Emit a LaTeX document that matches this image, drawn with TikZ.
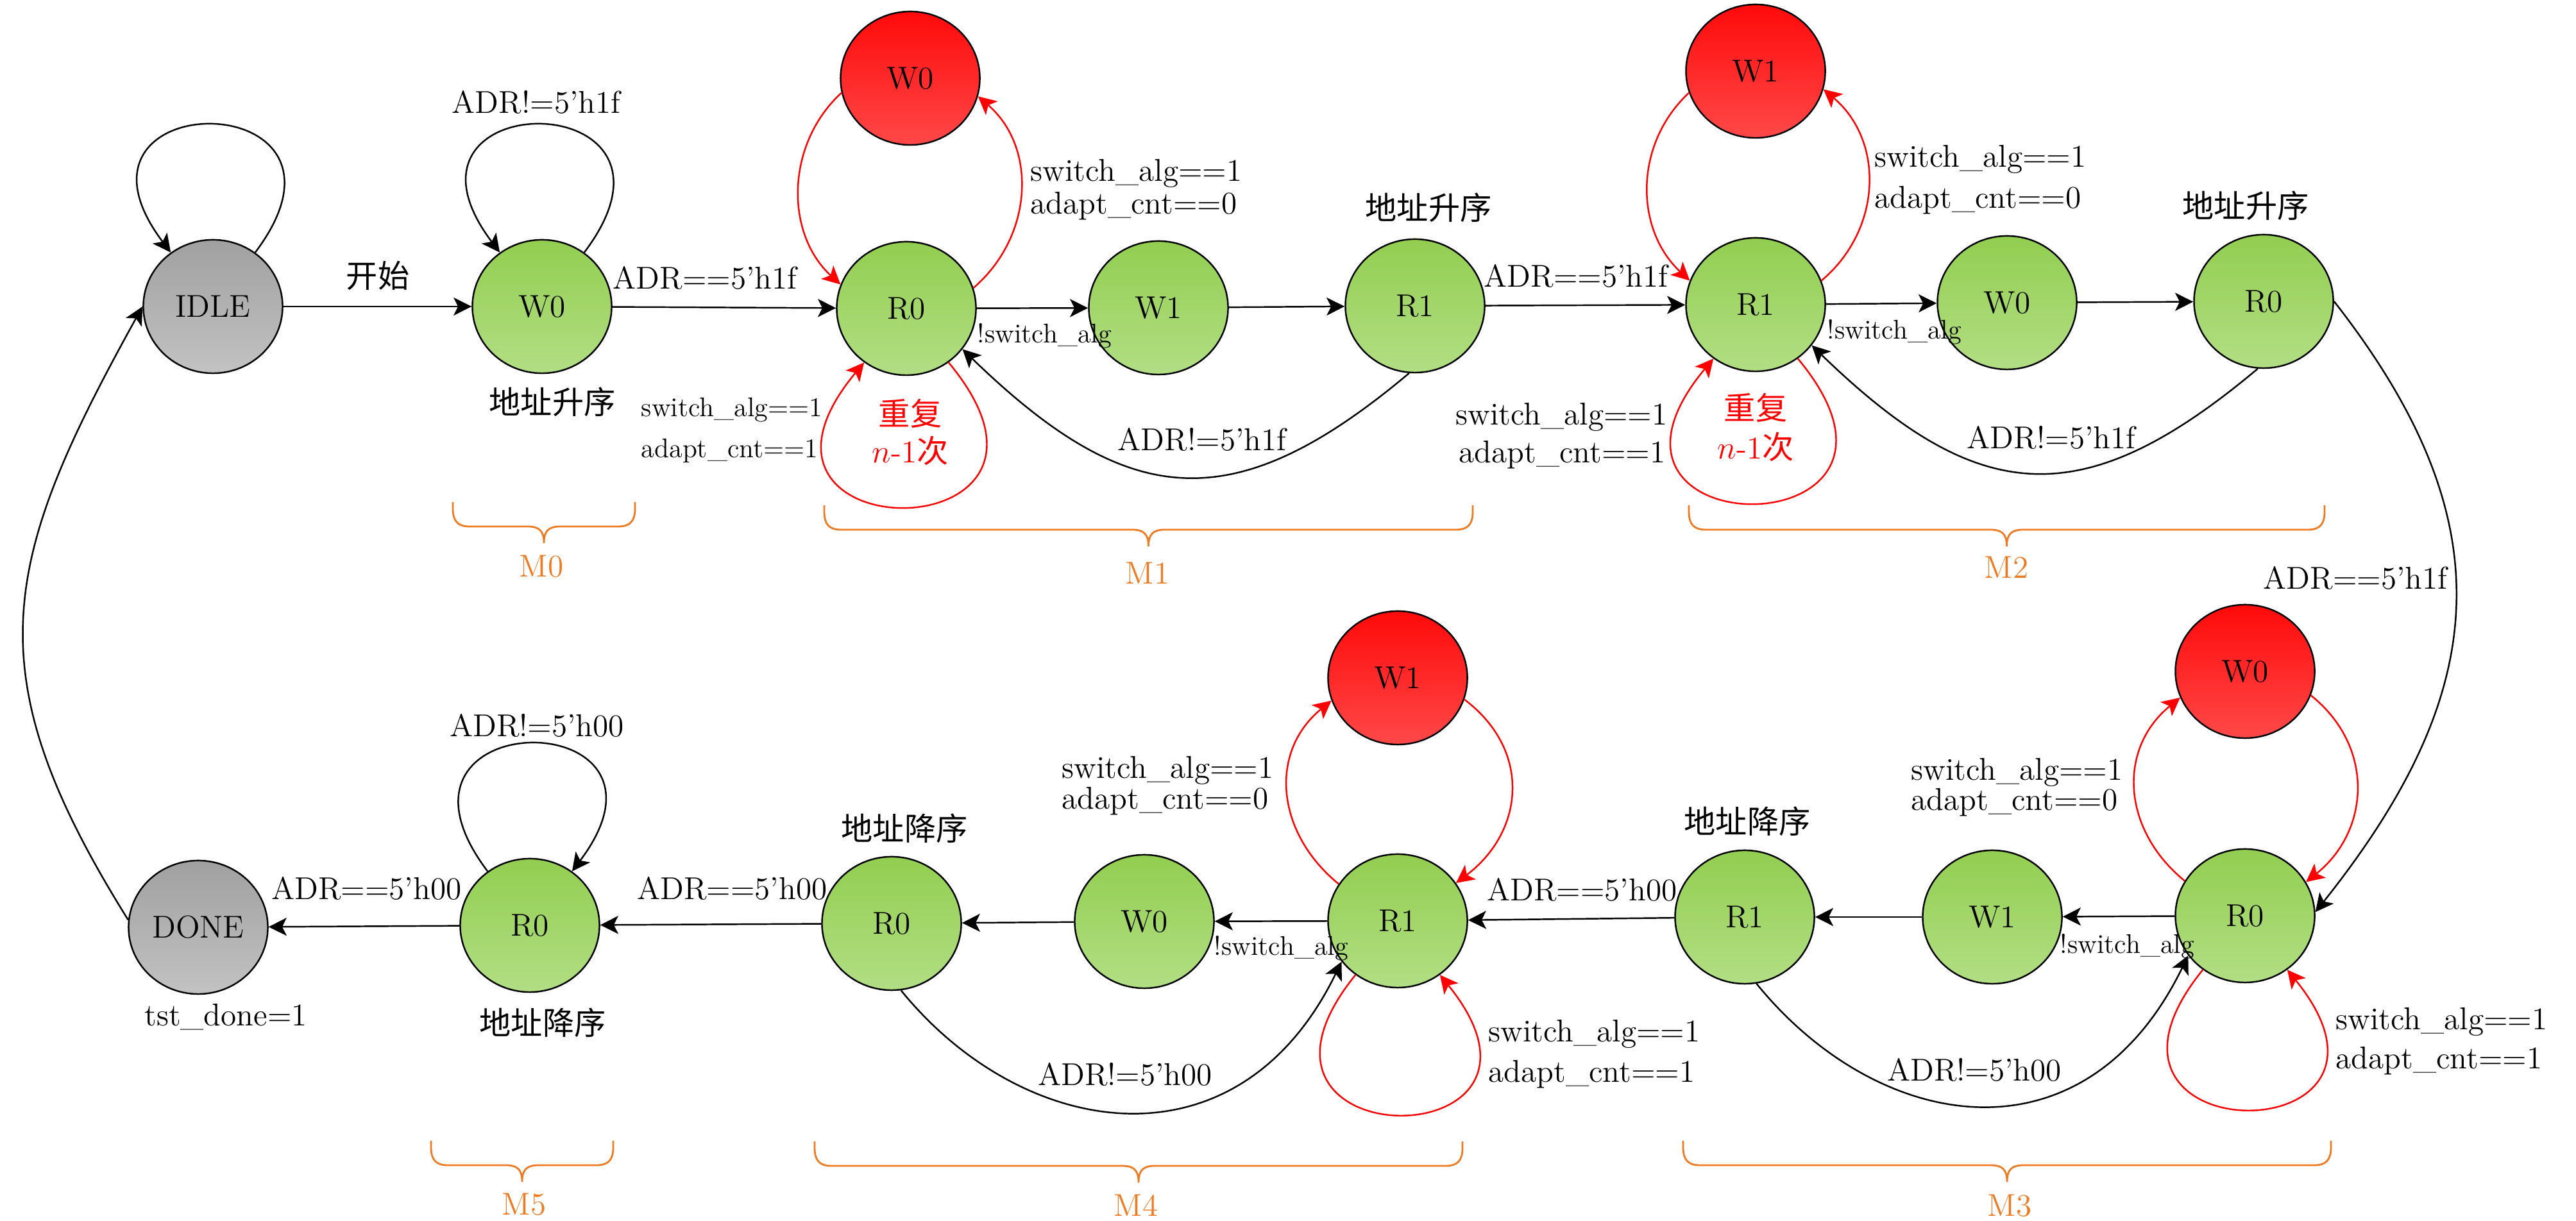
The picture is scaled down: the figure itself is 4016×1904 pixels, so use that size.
\documentclass[tikz,border=0pt]{standalone}
\usepackage{fontspec}
\newfontfamily\cjk{Noto Sans CJK SC}
\usetikzlibrary{arrows.meta,shapes.geometric}
\definecolor{gtop}{HTML}{92CE50}
\definecolor{gbot}{HTML}{B2DE84}
\definecolor{rtop}{HTML}{FF0A0A}
\definecolor{rbot}{HTML}{FF4848}
\definecolor{ktop}{HTML}{A0A0A0}
\definecolor{kbot}{HTML}{C2C2C2}
\definecolor{braceor}{HTML}{EE7A22}
\newcommand\drawbrace[3]{%
  \pgfmathsetmacro\bxc{(#1+#2)/2}%
  \draw[bracestyle] (#1,#3) -- (#1,#3-10)
    .. controls (#1,#3-30) and (#1+8,#3-38) .. (#1+26,#3-38)
    -- (\bxc-26,#3-38)
    .. controls (\bxc-8,#3-38) and (\bxc,#3-44) .. (\bxc,#3-64)
    .. controls (\bxc,#3-44) and (\bxc+8,#3-38) .. (\bxc+26,#3-38)
    -- (#2-26,#3-38)
    .. controls (#2-8,#3-38) and (#2,#3-30) .. (#2,#3-10) -- (#2,#3);}
\begin{document}
\begin{tikzpicture}[x=0.01cm,y=0.01cm,
  font=\fontsize{14}{17}\selectfont,
  fsm/.style={ellipse, draw=black, line width=0.7pt, minimum width=2.17cm, minimum height=2.08cm, inner sep=0pt},
  gst/.style={top color=gtop, bottom color=gbot},
  rst/.style={top color=rtop, bottom color=rbot},
  kst/.style={top color=ktop, bottom color=kbot},
  arr/.style={-{Stealth[length=8pt,width=8pt,inset=2pt]}, line width=0.7pt},
  rarr/.style={arr, red},
  lbl/.style={inner sep=0pt},
  slbl/.style={inner sep=0pt, font=\fontsize{12}{14}\selectfont},
  rlbl/.style={inner sep=0pt, text=red},
  mlbl/.style={inner sep=0pt, text=braceor},
  bracestyle/.style={draw=braceor, line width=0.8pt}]
\useasboundingbox (0,0) rectangle (4016,1904);

% states
\node[fsm,kst] (IDLE) at (332,1426) {IDLE};
\node[fsm,gst] (W0a) at (845,1426) {W0};
\node[fsm,gst] (R0a) at (1413,1423) {R0};
\node[fsm,rst] (W0r) at (1419,1782) {W0};
\node[fsm,gst] (W1a) at (1806,1424) {W1};
\node[fsm,gst] (R1a) at (2206,1427) {R1};
\node[fsm,gst] (R1b) at (2737,1429) {R1};
\node[fsm,rst] (W1r) at (2737,1793) {W1};
\node[fsm,gst] (W0b) at (3129,1432) {W0};
\node[fsm,gst] (R0b) at (3529,1434) {R0};
\node[fsm,kst] (DONE) at (309,458) {DONE};
\node[fsm,gst] (R0e) at (826,461) {R0};
\node[fsm,gst] (R0d) at (1390,464) {R0};
\node[fsm,gst] (W0d) at (1784,467) {W0};
\node[fsm,gst] (R1d) at (2179,468) {R1};
\node[fsm,rst] (W1rd) at (2179,847) {W1};
\node[fsm,gst] (R1c) at (2720,474) {R1};
\node[fsm,gst] (W1c) at (3106,474) {W1};
\node[fsm,gst] (R0c) at (3500,476) {R0};
\node[fsm,rst] (W0rc) at (3500,857) {W0};

% straight transitions
\draw[arr] (IDLE) -- (W0a);
\draw[arr] (W0a) -- (R0a);
\draw[arr] (R0a) -- (W1a);
\draw[arr] (W1a) -- (R1a);
\draw[arr] (R1a) -- (R1b);
\draw[arr] (R1b) -- (W0b);
\draw[arr] (W0b) -- (R0b);
\draw[arr] (R0c) -- (W1c);
\draw[arr] (W1c) -- (R1c);
\draw[arr] (R1c) -- (R1d);
\draw[arr] (R1d) -- (W0d);
\draw[arr] (W0d) -- (R0d);
\draw[arr] (R0d) -- (R0e);
\draw[arr] (R0e) -- (DONE);

% black self loops
\draw[arr] (IDLE.52) .. controls +(200,265) and +(-200,265) .. (IDLE.128);
\draw[arr] (W0a.52) .. controls +(200,265) and +(-200,265) .. (W0a.128);
\draw[arr] (R0e.128) .. controls +(-200,265) and +(200,265) .. (R0e.52);

% red self loops
\draw[rarr] (R0a.-52) .. controls +(250,-300) and +(-250,-300) .. (R0a.-128);
\draw[rarr] (R1b.-52) .. controls +(250,-300) and +(-250,-300) .. (R1b.-128);
\draw[rarr] (R1d.-128) .. controls +(-235,-290) and +(235,-290) .. (R1d.-52);
\draw[rarr] (R0c.-128) .. controls +(-235,-290) and +(235,-290) .. (R0c.-52);

% red arcs to the extra write states
\draw[rarr] (W0r.192) .. controls +(-87,-80) and +(-87,80) .. (R0a.160);
\draw[rarr] (R0a.17) .. controls +(93,80) and +(93,-80) .. (W0r.-15);
\draw[rarr] (W1r.198) .. controls +(-86,-80) and +(-86,80) .. (R1b.160);
\draw[rarr] (R1b.20) .. controls +(95,80) and +(95,-80) .. (W1r.-15);
\draw[rarr] (R1d.148) .. controls +(-98,80) and +(-98,-80) .. (W1rd.199);
\draw[rarr] (W1rd.-18) .. controls +(106,-80) and +(106,80) .. (R1d.33);
\draw[rarr] (R0c.150) .. controls +(-98,80) and +(-98,-80) .. (W0rc.202);
\draw[rarr] (W0rc.-20) .. controls +(100,-80) and +(100,80) .. (R0c.29);

% black return arcs
\draw[arr] (R1a.265) .. controls +(-275,-231) and +(258,-250) .. (R0a.-36);
\draw[arr] (R0b.265) .. controls +(-275,-231) and +(258,-250) .. (R1b.-36);
\draw[arr] (R0d.-82) .. controls +(189,-233) and +(-162,-333) .. (R1d.216);
\draw[arr] (R1c.-80) .. controls +(189,-233) and +(-162,-333) .. (R0c.215);

% long arcs
\draw[arr] (DONE.174) .. controls +(-242,387) and +(-221,-399) .. (IDLE.180);
\draw[arr] (R0b.0) .. controls +(270,-345) and +(273,343) .. (R0c.3);

% labels top row
\node[lbl] (t1) at (589,1474) {\cjk 开始};
\node[lbl] (t2) at (836,1745) {ADR!=5'h1f};
\node[lbl] (t3) at (861,1277) {\cjk 地址升序};
\node[lbl,anchor=west] (t4) at (955,1471) {ADR==5'h1f};
\node[slbl,anchor=west] (t5) at (999,1265) {switch\_alg==1};
\node[slbl,anchor=west] (t6) at (999,1201) {adapt\_cnt==1};
\node[lbl,anchor=west] (t7) at (1606,1634) {switch\_alg==1};
\node[lbl,anchor=west] (t8) at (1606,1583) {adapt\_cnt==0};
\node[slbl,anchor=west] (t9) at (1523,1380) {!switch\_alg};
\node[rlbl] (t10) at (1419,1259) {\cjk 重复};
\node[rlbl] (t11) at (1419,1201) {$n$-1{\cjk 次}};
\node[lbl] (t12) at (2227,1580) {\cjk 地址升序};
\node[lbl] (t13) at (1874,1219) {ADR!=5'h1f};
\node[lbl,anchor=west] (t14) at (2313,1474) {ADR==5'h1f};
\node[lbl,anchor=east] (t15) at (2600,1254) {switch\_alg==1};
\node[lbl,anchor=east] (t16) at (2597,1195) {adapt\_cnt==1};
\node[rlbl] (t17) at (2737,1268) {\cjk 重复};
\node[rlbl] (t18) at (2737,1207) {$n$-1{\cjk 次}};
\node[lbl,anchor=west] (t19) at (2922,1656) {switch\_alg==1};
\node[lbl,anchor=west] (t20) at (2922,1592) {adapt\_cnt==0};
\node[slbl,anchor=west] (t21) at (2848,1386) {!switch\_alg};
\node[lbl] (t22) at (3501,1583) {\cjk 地址升序};
\node[lbl] (t23) at (3198,1222) {ADR!=5'h1f};
\node[lbl,anchor=east] (t24) at (3816,1003) {ADR==5'h1f};

% labels bottom row
\node[lbl] (t25) at (837,773) {ADR!=5'h00};
\node[lbl,anchor=east] (t26) at (720,519) {ADR==5'h00};
\node[lbl,anchor=east] (t27) at (1290,519) {ADR==5'h00};
\node[lbl,anchor=east] (t28) at (2615,517) {ADR==5'h00};
\node[lbl] (t29) at (352,318) {tst\_done=1};
\node[lbl] (t30) at (846,309) {\cjk 地址降序};
\node[lbl] (t31) at (1410,612) {\cjk 地址降序};
\node[lbl] (t32) at (2724,623) {\cjk 地址降序};
\node[lbl,anchor=west] (t33) at (1655,703) {switch\_alg==1};
\node[lbl,anchor=west] (t34) at (1655,655) {adapt\_cnt==0};
\node[slbl,anchor=west] (t35) at (1892,425) {!switch\_alg};
\node[slbl,anchor=west] (t36) at (3211,428) {!switch\_alg};
\node[lbl] (t37) at (1754,229) {ADR!=5'h00};
\node[lbl] (t38) at (3078,236) {ADR!=5'h00};
\node[lbl,anchor=west] (t39) at (2320,292) {switch\_alg==1};
\node[lbl,anchor=west] (t40) at (2320,229) {adapt\_cnt==1};
\node[lbl,anchor=west] (t41) at (2979,700) {switch\_alg==1};
\node[lbl,anchor=west] (t42) at (2979,653) {adapt\_cnt==0};
\node[lbl,anchor=west] (t43) at (3641,311) {switch\_alg==1};
\node[lbl,anchor=west] (t44) at (3641,250) {adapt\_cnt==1};

% braces
\drawbrace{706}{990}{1121}
\drawbrace{1285}{2296}{1116}
\drawbrace{2633}{3624}{1116}
\drawbrace{672}{956}{125}
\drawbrace{1270}{2280}{124}
\drawbrace{2624}{3634}{125}
\node[mlbl] (m0) at (844,1021) {M0};
\node[mlbl] (m1) at (1789,1010) {M1};
\node[mlbl] (m2) at (3128,1019) {M2};
\node[mlbl] (m5) at (817,26) {M5};
\node[mlbl] (m4) at (1771,24) {M4};
\node[mlbl] (m3) at (3133,24) {M3};
\end{tikzpicture}
\end{document}
